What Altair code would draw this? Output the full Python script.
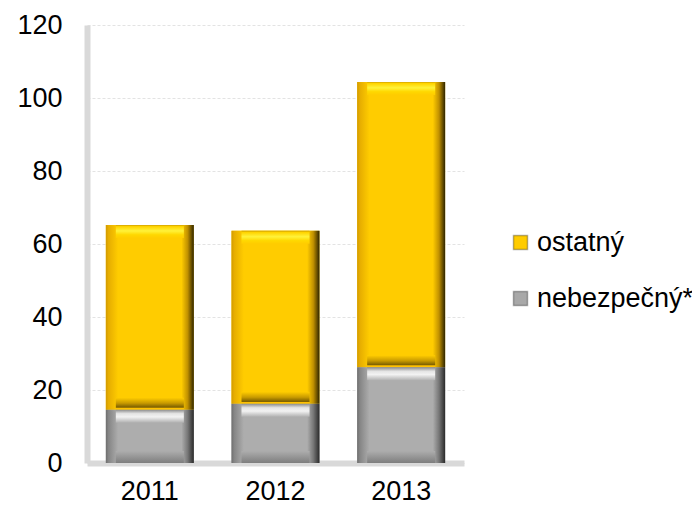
import altair as alt
import pandas as pd

years = ["2011", "2012", "2013"]
series = ["ostatný", "nebezpečný*"]
nebezpecny = [14.6, 16.2, 26.2]
ostatny = [50.6, 47.4, 78.2]
y_ticks = [0, 20, 40, 60, 80, 100, 120]

rows = []
for i, yr in enumerate(years):
    rows.append({"year": yr, "series": "nebezpečný*", "value": nebezpecny[i], "order": 0})
    rows.append({"year": yr, "series": "ostatný", "value": ostatny[i], "order": 1})
df = pd.DataFrame(rows)

FONT = "Liberation Sans"


def grad(stops, vertical=False):
    return alt.Gradient(
        gradient="linear",
        stops=[alt.GradientStop(color=c, offset=o) for o, c in stops],
        x1=0, x2=0 if vertical else 1, y1=0, y2=1 if vertical else 0,
    )


base = alt.Chart(df).transform_stack(
    stack="value", groupby=["year"], as_=["y0", "y1"],
    sort=[alt.SortField("order", order="ascending")],
)

x_enc = alt.X(
    "year:N", title=None,
    scale=alt.Scale(paddingInner=0.3, paddingOuter=0.15),
    axis=alt.Axis(labelAngle=0, ticks=False, grid=False, labelPadding=15,
                  domainColor="#d9d9d9", domainWidth=6,
                  labelFont=FONT, labelFontSize=27, labelColor="black"),
)
y_scale = alt.Scale(domain=[0, 120], nice=False)
y_axis = alt.Axis(values=y_ticks, ticks=False, labelPadding=25, grid=True,
                  gridColor="#e3e3e3", gridDash=[3, 2], gridWidth=1,
                  domainColor="#d9d9d9", domainWidth=6,
                  labelFont=FONT, labelFontSize=27, labelColor="black")

legend_layer = base.mark_bar(opacity=1).encode(
    x=x_enc,
    y=alt.Y("y1:Q", scale=y_scale, axis=y_axis, title=None),
    y2="y0:Q",
    color=alt.Color(
        "series:N",
        scale=alt.Scale(domain=series, range=["#ffcc00", "#a8a8a8"]),
        legend=alt.Legend(title=None, orient="none", legendX=420, legendY=204,
                          symbolType="square", symbolSize=196, symbolOpacity=1,
                          symbolStrokeColor="rgba(0,0,0,0.3)", symbolStrokeWidth=1.5,
                          labelFont=FONT, labelFontSize=27, labelColor="black",
                          rowPadding=28, labelOffset=3, padding=0),
    ),
)

gold_h = grad([(0, "#d29a00"), (0.03, "#e6ad00"), (0.14, "#ffcc00"), (0.86, "#ffcc00"),
               (0.93, "#c09000"), (1, "#2e2400")])
gray_h = grad([(0, "#6e6e6e"), (0.03, "#858585"), (0.14, "#adadad"), (0.86, "#adadad"),
               (0.93, "#777777"), (1, "#2a2a2a")])

gold_bar = base.transform_filter(alt.datum.series == "ostatný").mark_bar(
    color=gold_h, opacity=1).encode(x=x_enc, y=alt.Y("y1:Q", scale=y_scale, title=None), y2="y0:Q")
gray_bar = base.transform_filter(alt.datum.series == "nebezpečný*").mark_bar(
    color=gray_h, opacity=1).encode(x=x_enc, y=alt.Y("y1:Q", scale=y_scale, title=None), y2="y0:Q")

gold_top = base.transform_filter(alt.datum.series == "ostatný").mark_tick(
    size=68, thickness=13, yOffset=6.5, opacity=1,
    color=grad([(0, "#d0a000"), (0.12, "#ffd400"), (0.45, "#fff23a"), (0.75, "#ffd800"),
                (1, "#ffcc00")], vertical=True),
).encode(x=x_enc, y=alt.Y("y1:Q", scale=y_scale, title=None))

gold_bot = base.transform_filter(alt.datum.series == "ostatný").mark_tick(
    size=68, thickness=12, yOffset=-6, opacity=1,
    color=grad([(0, "#ffcc00"), (0.45, "#c89a00"), (0.8, "#7a5e00"), (0.86, "#ffc000"),
                (1, "#ffc400")], vertical=True),
).encode(x=x_enc, y=alt.Y("y0:Q", scale=y_scale, title=None))

gray_top = base.transform_filter(alt.datum.series == "nebezpečný*").mark_tick(
    size=68, thickness=13, yOffset=6.5, opacity=1,
    color=grad([(0, "#8c8c8c"), (0.3, "#e4e4e4"), (0.55, "#f2f2f2"), (1, "#b0b0b0")],
               vertical=True),
).encode(x=x_enc, y=alt.Y("y1:Q", scale=y_scale, title=None))

gray_bot = base.transform_filter(alt.datum.series == "nebezpečný*").mark_tick(
    size=68, thickness=12, yOffset=-6, opacity=1,
    color=grad([(0, "#adadad"), (1, "#7e7e7e")], vertical=True),
).encode(x=x_enc, y=alt.Y("y0:Q", scale=y_scale, title=None))

chart = alt.layer(
    legend_layer, gold_bar, gray_bar, gold_top, gold_bot, gray_top, gray_bot
).properties(
    width=377, height=438,
    autosize=alt.AutoSizeParams(type="none"),
    padding={"left": 79, "top": 17, "right": 228, "bottom": 42},
    background="white",
).configure_view(stroke=None)

chart.save("out.html", embed_options={"renderer": "svg", "actions": False})
